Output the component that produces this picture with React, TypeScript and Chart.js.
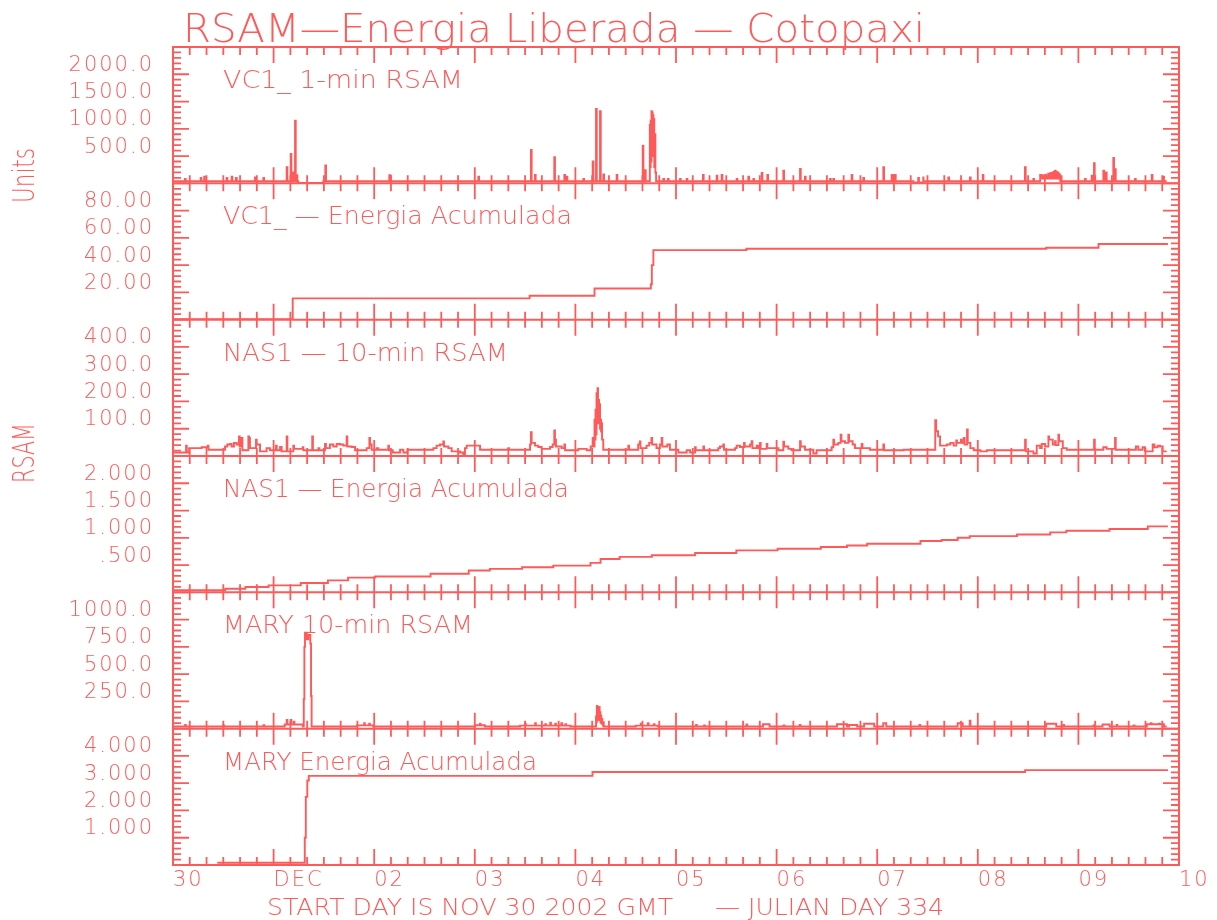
import React, { useEffect, useRef } from 'react';
import { Chart, registerables } from 'chart.js';

Chart.register(...registerables);

const RED = '#ff5a5a';
const FONT = '"DejaVu Sans", "Liberation Sans", sans-serif';
const FONT_WEIGHT = '200';

// ---------- axis labels ----------
const dayLabels = ['30', 'DEC', '02', '03', '04', '05', '06', '07', '08', '09', '10'];
const panelTitles = [
  'VC1_ 1-min RSAM',
  'VC1_ — Energia Acumulada',
  'NAS1 — 10-min RSAM',
  'NAS1 — Energia Acumulada',
  'MARY 10-min RSAM',
  'MARY Energia Acumulada',
];
const panelMax = [2500, 100, 500, 2.5, 1250, 5];
const panelDecimals = [1, 2, 1, 3, 1, 3];

// ---------- data (day since Nov 30 00:00, value) ----------
// VC1 1-min RSAM: background level changes and short bursts
const vc1RsamLevels: [number, number][] = [
  [0, 40], [1.245, 5], [1.494, 40], [7.36, 15], [7.46, 40], [8.62, 90], [8.82, 40], [9.878, 40],
];
const vc1RsamSpikes: [number, number][] = [
  [0.119, 82], [0.275, 100], [0.31, 120], [0.533, 100], [0.583, 120], [0.626, 100], [0.815, 110], [0.898, 100],
  [1.13, 296], [1.17, 540], [1.196, 200], [1.213, 1150], [1.229, 150], [1.514, 326], [2.15, 150], [2.158, 140],
  [3.035, 120], [3.558, 613], [3.598, 155], [3.79, 480], [3.89, 155], [3.913, 120], [4.079, 82], [4.172, 400],
  [4.205, 1365], [4.245, 1322], [4.278, 165], [4.41, 155], [4.669, 692], [4.692, 240],
  [4.740, 1077], [4.744, 300], [4.748, 1150], [4.752, 400], [4.756, 1322], [4.760, 600], [4.764, 1300],
  [4.768, 500], [4.772, 1250], [4.776, 700], [4.780, 1181], [4.784, 300], [4.790, 900], [4.795, 200],
  [4.874, 82], [4.92, 82], [5.04, 82], [5.106, 82], [5.268, 155], [5.404, 140], [5.454, 155], [5.603, 82],
  [5.719, 120], [5.769, 82], [5.852, 190], [5.908, 155], [6.067, 230], [6.233, 265], [6.282, 120], [6.531, 82],
  [6.564, 82], [6.746, 155], [6.862, 100], [7.061, 296], [7.144, 155], [7.16, 150], [7.177, 155], [7.408, 100],
  [7.458, 110], [7.707, 110], [7.922, 110], [8.049, 155], [8.469, 296], [8.552, 82],
  [8.62, 155], [8.63, 120], [8.64, 150], [8.655, 130], [8.67, 160], [8.685, 140], [8.70, 175], [8.71, 150],
  [8.72, 185], [8.734, 190], [8.745, 200], [8.756, 210], [8.767, 230], [8.778, 210], [8.79, 200], [8.80, 180],
  [8.81, 165], [9.066, 82], [9.132, 140], [9.155, 370], [9.248, 230], [9.274, 200], [9.347, 467], [9.364, 260],
  [9.563, 82], [9.729, 155], [9.844, 120],
];

const vc1Energy: [number, number][] = [
  [0, 0.3], [1.19, 15.6], [3.545, 17.5], [4.19, 22.9], [4.75, 26], [4.76, 40], [4.775, 51],
  [5.7, 52], [8.68, 52.8], [9.2, 55.5], [9.89, 55.5],
];

const nas1Rsam: [number, number][] = [
  [0.00, 13], [0.13, 38], [0.137, 13], [0.16, 29], [0.285, 32], [0.345, 38], [0.352, 23], [0.517, 35],
  [0.54, 42], [0.567, 44], [0.583, 35], [0.606, 48], [0.633, 42], [0.656, 72], [0.663, 35], [0.682, 66],
  [0.69, 21], [0.749, 72], [0.756, 66], [0.765, 29], [0.825, 60], [0.832, 42], [0.865, 17], [0.93, 29],
  [0.964, 21], [1.024, 38], [1.031, 21], [1.064, 33], [1.08, 17], [1.13, 72], [1.137, 17], [1.196, 38],
  [1.203, 26], [1.289, 32], [1.296, 21], [1.384, 72], [1.391, 21], [1.445, 29], [1.455, 21], [1.511, 44],
  [1.52, 29], [1.56, 42], [1.594, 35], [1.627, 44], [1.66, 42], [1.693, 38], [1.726, 72], [1.733, 35],
  [1.776, 33], [1.81, 21], [1.925, 29], [1.952, 66], [1.959, 42], [1.975, 23], [2.025, 29], [2.04, 23],
  [2.14, 38], [2.147, 21], [2.184, 13], [2.257, 23], [2.29, 13], [2.33, 23], [2.588, 29], [2.62, 38],
  [2.654, 42], [2.687, 53], [2.694, 35], [2.737, 29], [2.77, 17], [2.853, 13], [2.886, 5], [2.902, 29],
  [2.919, 38], [3.052, 23], [3.333, 29], [3.34, 23], [3.549, 42], [3.558, 87], [3.565, 48], [3.598, 38],
  [3.63, 33], [3.665, 26], [3.748, 33], [3.774, 42], [3.79, 94], [3.797, 60], [3.807, 35], [3.863, 29],
  [3.89, 42], [3.897, 21], [4.029, 26], [4.112, 21], [4.152, 35], [4.172, 66], [4.18, 35],
  [4.19, 133], [4.195, 60], [4.2, 170], [4.205, 80], [4.21, 230], [4.215, 120], [4.22, 249], [4.225, 150],
  [4.23, 206], [4.235, 120], [4.24, 190], [4.245, 100], [4.25, 133], [4.255, 90], [4.26, 120], [4.265, 60],
  [4.277, 23], [4.526, 38], [4.533, 23], [4.624, 42], [4.64, 53], [4.647, 29], [4.707, 38], [4.733, 48],
  [4.756, 66], [4.763, 42], [4.806, 29], [4.84, 42], [4.857, 66], [4.864, 35], [4.913, 42], [4.94, 23],
  [5.023, 13], [5.106, 21], [5.14, 13], [5.189, 32], [5.196, 21], [5.272, 35], [5.279, 21], [5.42, 29],
  [5.437, 35], [5.47, 42], [5.477, 23], [5.587, 29], [5.603, 38], [5.636, 33], [5.676, 48], [5.683, 35],
  [5.736, 42], [5.752, 54], [5.759, 29], [5.802, 38], [5.818, 29], [5.835, 48], [5.842, 26], [5.901, 44],
  [5.908, 29], [6.017, 21], [6.067, 52], [6.074, 35], [6.117, 26], [6.15, 21], [6.233, 54], [6.24, 35],
  [6.282, 23], [6.365, 9], [6.398, 21], [6.547, 32], [6.564, 60], [6.571, 42], [6.613, 48], [6.637, 78],
  [6.644, 54], [6.68, 48], [6.713, 78], [6.72, 54], [6.756, 42], [6.779, 29], [6.846, 44], [6.853, 29],
  [6.928, 23], [7.061, 42], [7.068, 21], [7.262, 23], [7.577, 131], [7.586, 91], [7.605, 72], [7.625, 38],
  [7.693, 42], [7.727, 48], [7.76, 38], [7.786, 57], [7.793, 48], [7.832, 60], [7.84, 48], [7.86, 66],
  [7.868, 42], [7.893, 97], [7.9, 48], [7.926, 29], [7.96, 21], [8.026, 17], [8.09, 21], [8.47, 60],
  [8.477, 17], [8.553, 9], [8.586, 38], [8.619, 29], [8.636, 44], [8.669, 35], [8.702, 72], [8.709, 60],
  [8.745, 42], [8.768, 54], [8.775, 40], [8.801, 78], [8.808, 54], [8.845, 29], [8.884, 23], [9.156, 60],
  [9.163, 23], [9.248, 32], [9.281, 26], [9.364, 66], [9.371, 23], [9.572, 35], [9.595, 23], [9.638, 32],
  [9.662, 17], [9.738, 42], [9.755, 32], [9.788, 38], [9.811, 35], [9.838, 17], [9.878, 17],
];

const nas1Energy: [number, number][] = [
  [0, 0.037], [0.52, 0.067], [0.72, 0.098], [0.95, 0.128], [1.27, 0.17], [1.54, 0.22], [1.74, 0.27],
  [2.01, 0.29], [2.56, 0.34], [2.94, 0.40], [3.15, 0.43], [3.47, 0.46], [3.78, 0.49], [4.15, 0.54],
  [4.25, 0.61], [4.44, 0.65], [4.76, 0.68], [5.19, 0.72], [5.6, 0.77], [6.01, 0.80], [6.44, 0.83],
  [6.7, 0.86], [6.9, 0.89], [7.43, 0.94], [7.64, 0.96], [7.8, 1.0], [7.92, 1.03], [8.39, 1.06],
  [8.72, 1.10], [8.88, 1.13], [9.31, 1.16], [9.69, 1.21], [9.89, 1.21],
];

const maryRsamLevels: [number, number][] = [
  [0, 20], [1.11, 38], [1.29, 20], [1.300, 270], [1.306, 750], [1.312, 880], [1.33, 820], [1.345, 860],
  [1.365, 780], [1.372, 300], [1.378, 20], [1.83, 30], [1.99, 20], [3.0, 32], [3.1, 20], [3.45, 28],
  [3.95, 20], [4.6, 28], [4.82, 20], [5.865, 40], [5.93, 20], [6.6, 40], [6.7, 20], [6.72, 34], [6.8, 20],
  [6.87, 45], [6.97, 20], [7.06, 50], [7.09, 20], [7.8, 50], [7.85, 20], [8.68, 45], [8.78, 20],
  [9.24, 38], [9.31, 20], [9.68, 40], [9.85, 20], [9.878, 20],
];
const maryRsamSpikes: [number, number][] = [
  [0.12, 35], [0.5, 30], [0.9, 32], [1.13, 80], [1.17, 80], [1.2, 65], [1.9, 50], [1.95, 45], [3.05, 45],
  [3.5, 45], [3.6, 50], [3.7, 40], [3.75, 55], [3.8, 45], [3.86, 50], [3.9, 40],
  [4.205, 111], [4.209, 60], [4.213, 208], [4.217, 80], [4.221, 200], [4.225, 100], [4.229, 190],
  [4.233, 90], [4.237, 200], [4.241, 80], [4.245, 150], [4.249, 60], [4.253, 120], [4.257, 50],
  [4.262, 90], [4.268, 40], [4.275, 60],
  [4.65, 45], [4.72, 50], [4.78, 40], [5.2, 34], [5.28, 30], [5.7, 38], [6.07, 30], [6.23, 34], [7.42, 34],
  [7.92, 74], [8.85, 34], [9.15, 30], [9.38, 34], [9.55, 30], [9.72, 50], [9.8, 45],
];

const maryEnergy: [number, number][] = [
  [0.44, 0.08], [1.31, 1.0], [1.32, 2.5], [1.335, 3.1], [1.35, 3.27], [4.17, 3.41], [8.47, 3.48], [9.89, 3.48],
];

// ---------- layout (pixels) ----------
const W = 1217;
const H = 920;
const SPIKE_DAYS = 0.007;
const TITLE_WIDTHS = [240, 349, 285, 346, 250, 314];

type Pt = { x: number; y: number };

function toXY(p: [number, number]): Pt {
  return { x: p[0], y: p[1] };
}

function stepTrace(levels: [number, number][], spikes: [number, number][], dur: number): Pt[] {
  const levelAt = (d: number) => {
    let v = levels[0][1];
    for (const [ld, lv] of levels) {
      if (ld <= d) v = lv;
      else break;
    }
    return v;
  };
  const ev: [number, number][] = levels.map((p) => [p[0], p[1]] as [number, number]);
  spikes.forEach(([d, v], i) => {
    ev.push([d, v]);
    const next = spikes[i + 1];
    if (!next || next[0] > d + dur) ev.push([d + dur, levelAt(d + dur)]);
  });
  ev.sort((a, b) => a[0] - b[0]);
  return ev.map(toXY);
}

function fmtTick(i: number, v: number): string {
  const max = panelMax[i];
  if (v <= 1e-9 || v >= max - 1e-9) return '';
  let s = v.toFixed(panelDecimals[i]);
  if (s.startsWith('0.')) s = s.slice(1);
  return s;
}

function fitText(
  ctx: CanvasRenderingContext2D,
  text: string,
  x: number,
  y: number,
  size: number,
  width: number,
  rotated = false
) {
  ctx.save();
  ctx.font = `${FONT_WEIGHT} ${size}px ${FONT}`;
  ctx.textAlign = 'left';
  ctx.textBaseline = 'alphabetic';
  ctx.fillStyle = RED;
  const m = ctx.measureText(text).width || 1;
  ctx.translate(x, y);
  if (rotated) ctx.rotate(-Math.PI / 2);
  ctx.scale(width / m, 1);
  ctx.fillText(text, 0, 0);
  ctx.restore();
}

const framePlugin = {
  id: 'idlFrame',
  beforeDraw(chart: any) {
    (chart.ctx as any).letterSpacing = '2px';
  },
  afterDraw(chart: any) {
    const ctx: CanvasRenderingContext2D = chart.ctx;
    (ctx as any).letterSpacing = '0px';
    const { left, right, top, bottom } = chart.chartArea;
    const xs = chart.scales.x;
    ctx.save();
    ctx.strokeStyle = RED;
    ctx.lineWidth = 2;
    ctx.strokeRect(left, top, right - left, bottom - top);

    const panels = panelMax.map((_, i) => chart.scales['y' + (i + 1)]);
    // panel separators
    panels.forEach((s: any, i: number) => {
      if (i < panels.length - 1) {
        ctx.beginPath();
        ctx.moveTo(left, s.bottom);
        ctx.lineTo(right, s.bottom);
        ctx.stroke();
      }
    });

    ctx.lineWidth = 1.8;
    // x ticks (every 4 hours, longer at day boundaries)
    const bounds: { y: number; up: boolean; down: boolean }[] = [];
    bounds.push({ y: top, up: false, down: true });
    panels.forEach((s: any, i: number) => {
      if (i < panels.length - 1) bounds.push({ y: s.bottom, up: true, down: true });
    });
    bounds.push({ y: bottom, up: true, down: false });
    ctx.beginPath();
    for (let k = 0; k <= 60; k++) {
      const px = xs.getPixelForValue(k / 6);
      const L = k % 6 === 0 ? 16 : 8;
      for (const b of bounds) {
        const y0 = b.up ? b.y - L : b.y;
        const y1 = b.down ? b.y + L : b.y;
        ctx.moveTo(px, y0);
        ctx.lineTo(px, y1);
      }
    }
    // y ticks (5 minor per major, both sides, inward)
    panels.forEach((s: any, i: number) => {
      const minor = panelMax[i] / 25;
      for (let j = 0; j <= 25; j++) {
        const py = s.getPixelForValue(j * minor);
        const L = j % 5 === 0 ? 16 : 8;
        ctx.moveTo(left, py);
        ctx.lineTo(left + L, py);
        ctx.moveTo(right, py);
        ctx.lineTo(right - L, py);
      }
    });
    ctx.stroke();
    ctx.restore();

    // texts
    fitText(ctx, 'RSAM—Energia Liberada — Cotopaxi', left + 10, top - 5, 39, 742);
    panels.forEach((s: any, i: number) => {
      fitText(ctx, panelTitles[i], left + 50, s.top + 41, 25, TITLE_WIDTHS[i]);
    });
    fitText(ctx, 'Units', 34, 203, 30, 55, true);
    fitText(ctx, 'RSAM', 34, 483, 30, 60, true);
    fitText(ctx, 'START DAY IS NOV 30 2002 GMT', 267, 915, 23, 406);
    fitText(ctx, '— JULIAN DAY 334', 715, 915, 23, 229);
  },
};

export default function App() {
  const ref = useRef<HTMLCanvasElement | null>(null);

  useEffect(() => {
    if (!ref.current) return;
    const traces: Pt[][] = [
      stepTrace(vc1RsamLevels, vc1RsamSpikes, SPIKE_DAYS),
      vc1Energy.map(toXY),
      nas1Rsam.map(toXY),
      nas1Energy.map(toXY),
      stepTrace(maryRsamLevels, maryRsamSpikes, SPIKE_DAYS),
      maryEnergy.map(toXY),
    ];

    const tickFont = { family: FONT, size: 21, weight: FONT_WEIGHT };

    const scales: any = {
      x: {
        type: 'linear',
        min: 0,
        max: 10,
        position: 'bottom',
        ticks: {
          stepSize: 1,
          autoSkip: false,
          maxRotation: 0,
          minRotation: 0,
          align: 'start',
          padding: 3,
          color: RED,
          font: tickFont,
          callback: (v: any) => dayLabels[Math.round(Number(v))] ?? '',
        },
        grid: { display: false, drawTicks: false },
        border: { display: false },
        afterFit: (s: any) => {
          s.height = 55;
        },
      },
    };
    for (let i = panelMax.length - 1; i >= 0; i--) {
      scales['y' + (i + 1)] = {
        type: 'linear',
        position: 'left',
        stack: 'panels',
        stackWeight: 1,
        weight: panelMax.length - i,
        offset: false,
        min: 0,
        max: panelMax[i],
        ticks: {
          stepSize: panelMax[i] / 5,
          padding: 19,
          labelOffset: -9,
          autoSkip: false,
          color: RED,
          font: tickFont,
          callback: (v: any) => fmtTick(i, Number(v)),
        },
        grid: { display: false, drawTicks: false },
        border: { display: false },
        afterFit: (s: any) => {
          s.width = 173;
        },
      };
    }

    const chart = new Chart(ref.current, {
      type: 'line',
      data: {
        datasets: traces.map((data, i) => ({
          data,
          xAxisID: 'x',
          yAxisID: 'y' + (i + 1),
          stepped: true,
          borderColor: RED,
          borderWidth: 1.9,
          pointRadius: 0,
          fill: false,
          tension: 0,
        })),
      },
      options: {
        responsive: false,
        animation: false,
        events: [],
        layout: { padding: { left: 0, right: 38, top: 47, bottom: 0 } },
        plugins: { legend: { display: false }, tooltip: { enabled: false }, title: { display: false } },
        scales,
      } as any,
      plugins: [framePlugin as any],
    });
    return () => chart.destroy();
  }, []);

  return (
    <div style={{ position: 'fixed', left: 0, top: 0, width: W, height: H, background: '#ffffff' }}>
      <canvas ref={ref} width={W} height={H} style={{ display: 'block' }} />
    </div>
  );
}
